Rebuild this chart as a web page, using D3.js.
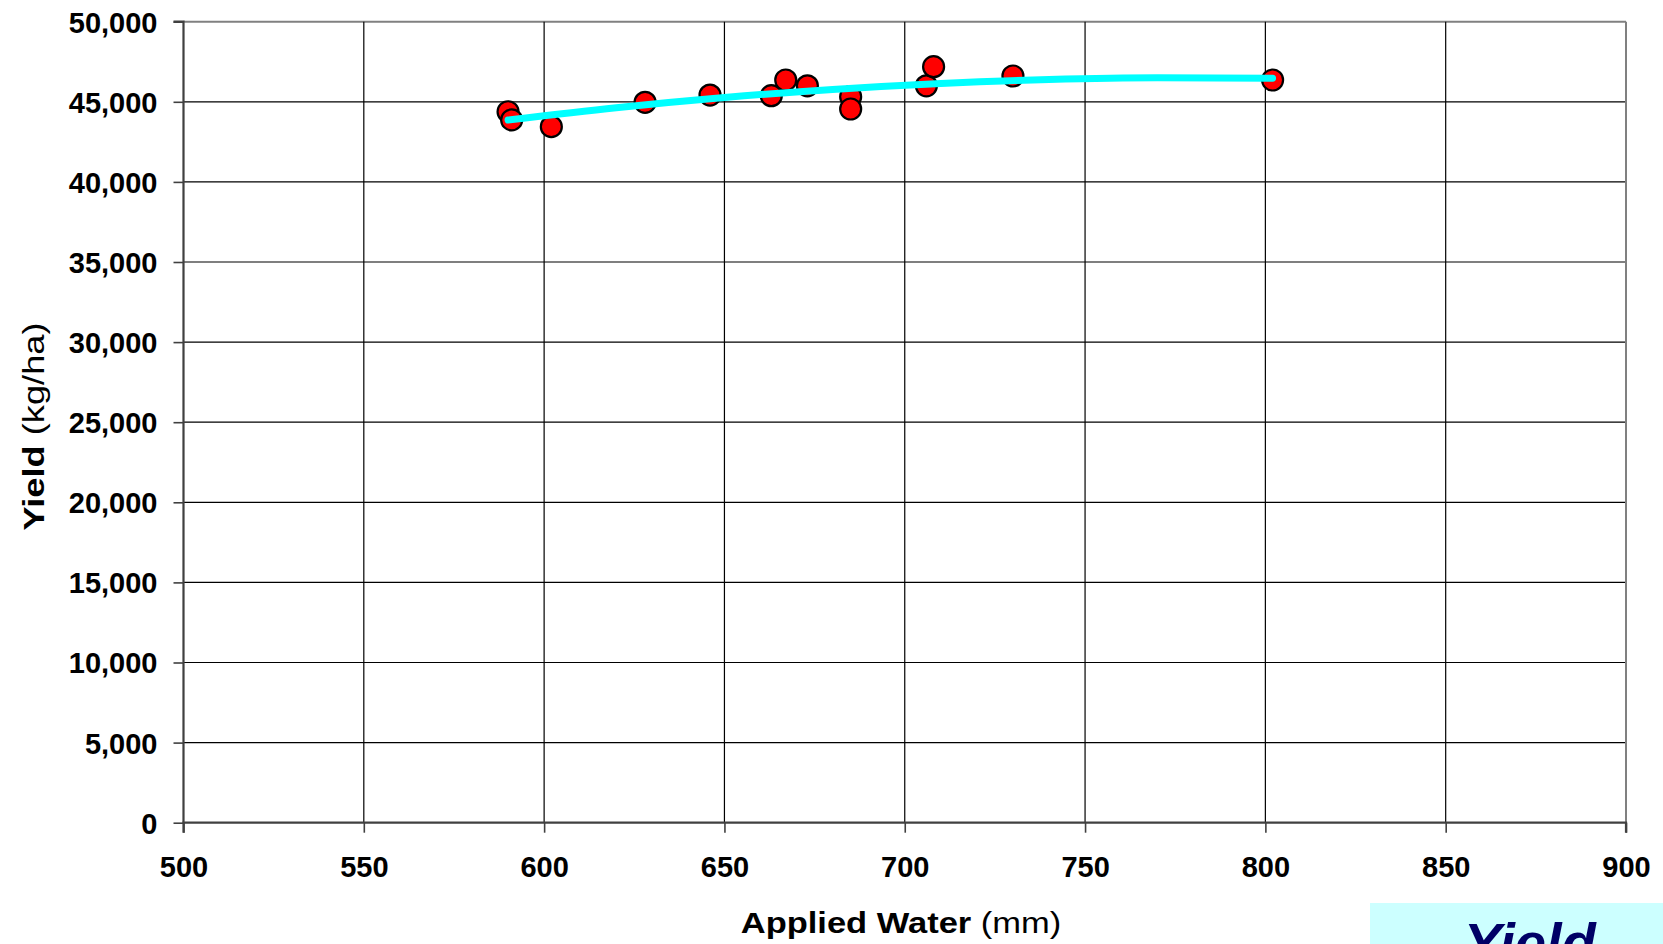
<!DOCTYPE html>
<html>
<head>
<meta charset="utf-8">
<script src="https://cdn.jsdelivr.net/npm/d3@7/dist/d3.min.js"></script>
<style>
  html, body { margin: 0; padding: 0; background: #fff; }
  svg { display: block; font-family: "Liberation Sans", Arial, sans-serif; }
</style>
</head>
<body>
<svg id="chart" width="1663" height="944"></svg>
<script>
// ---- data ----
const appliedWater = [590, 591, 602, 628, 646, 663, 667, 673, 685, 685, 706, 708, 730, 802];
const yieldValues  = [44380, 43870, 43450, 44970, 45420, 45380, 46360, 46000, 45320, 44550, 46000, 47190, 46610, 46360];
const trendWater   = [590, 620, 650, 680, 710, 740, 770, 802];
const trendYield   = [43865, 44633, 45269, 45773, 46146, 46387, 46496, 46468];
const xTicks = [500, 550, 600, 650, 700, 750, 800, 850, 900];
const yTicks = [0, 5000, 10000, 15000, 20000, 25000, 30000, 35000, 40000, 45000, 50000];

const svg = d3.select("#chart");
const L = 183.5, R = 1626, T = 21.7, B = 822.7;

const x = d3.scaleLinear().domain([500, 900]).range([L, R]);
const y = d3.scaleLinear().domain([0, 50000]).range([B, T]);

// gridlines
const grid = svg.append("g");
grid.selectAll("line.h").data(yTicks.filter(d => d > 0)).enter().append("line")
  .attr("x1", L).attr("x2", R).attr("y1", d => y(d)).attr("y2", d => y(d))
  .attr("stroke", d => d === 50000 ? "#808080" : "#000").attr("stroke-width", d => d === 50000 ? 2 : 1.2);
grid.selectAll("line.v").data(xTicks.filter(d => d > 500 && d < 900)).enter().append("line")
  .attr("y1", T).attr("y2", B).attr("x1", d => x(d)).attr("x2", d => x(d))
  .attr("stroke", "#000").attr("stroke-width", 1.2);
// right border
svg.append("line").attr("x1", R).attr("x2", R).attr("y1", T).attr("y2", B)
  .attr("stroke", "#808080").attr("stroke-width", 2);

// axes
const fmt = d3.format(",");
const yAxis = svg.append("g").attr("transform", `translate(${L},0)`)
  .call(d3.axisLeft(y).tickValues(yTicks).tickSize(10).tickPadding(16).tickFormat(fmt));
const xAxis = svg.append("g").attr("transform", `translate(0,${B})`)
  .call(d3.axisBottom(x).tickValues(xTicks).tickSize(10).tickPadding(24).tickFormat(d3.format("d")));
[yAxis, xAxis].forEach(a => {
  a.select(".domain").attr("stroke", "#404040").attr("stroke-width", 2.2);
  a.selectAll(".tick line").attr("stroke", "#404040").attr("stroke-width", 1.6);
  a.selectAll(".tick text").attr("fill", "#000").attr("font-size", 29).attr("font-weight", "bold")
    .attr("font-family", "'Liberation Sans', Arial, sans-serif");
});
yAxis.select(".domain").attr("d", `M-10,${T}H0V${B}`);
xAxis.select(".domain").attr("d", `M${L},10V0H${R}V10`);
yAxis.selectAll(".tick text").attr("dy", "0.36em");
xAxis.selectAll(".tick text").attr("dy", "0.71em");

// points
svg.append("g").selectAll("circle").data(appliedWater).enter().append("circle")
  .attr("cx", (d, i) => x(d)).attr("cy", (d, i) => y(yieldValues[i]))
  .attr("r", 10.5).attr("fill", "#ff0000").attr("stroke", "#000").attr("stroke-width", 2.2);

// trend line
const line = d3.line().x(d => x(d[0])).y(d => y(d[1])).curve(d3.curveMonotoneX);
svg.append("path").datum(trendWater.map((d, i) => [d, trendYield[i]]))
  .attr("d", line).attr("fill", "none").attr("stroke", "#00ffff").attr("stroke-width", 7)
  .attr("stroke-linecap", "round");

// axis titles
const xt = svg.append("text").attr("x", 0).attr("y", 0)
  .attr("transform", "translate(901,933) scale(1.15,1)")
  .attr("text-anchor", "middle").attr("font-size", 30).attr("fill", "#000");
xt.append("tspan").attr("font-weight", "bold").text("Applied Water");
xt.append("tspan").text(" (mm)");

const yt = svg.append("text").attr("x", 0).attr("y", 0)
  .attr("transform", "translate(44,426.5) rotate(-90) scale(1.25,1)")
  .attr("text-anchor", "middle").attr("font-size", 29).attr("fill", "#000");
yt.append("tspan").attr("font-weight", "bold").text("Yield");
yt.append("tspan").text(" (kg/ha)");

// cut-off label box at bottom right
svg.append("rect").attr("x", 1370).attr("y", 903).attr("width", 300).attr("height", 50)
  .attr("fill", "#ccffff");
svg.append("text").attr("x", 1464).attr("y", 962).attr("font-size", 56)
  .attr("font-weight", "bold").attr("font-style", "italic").attr("fill", "#000066").text("Yield");
</script>
</body>
</html>
